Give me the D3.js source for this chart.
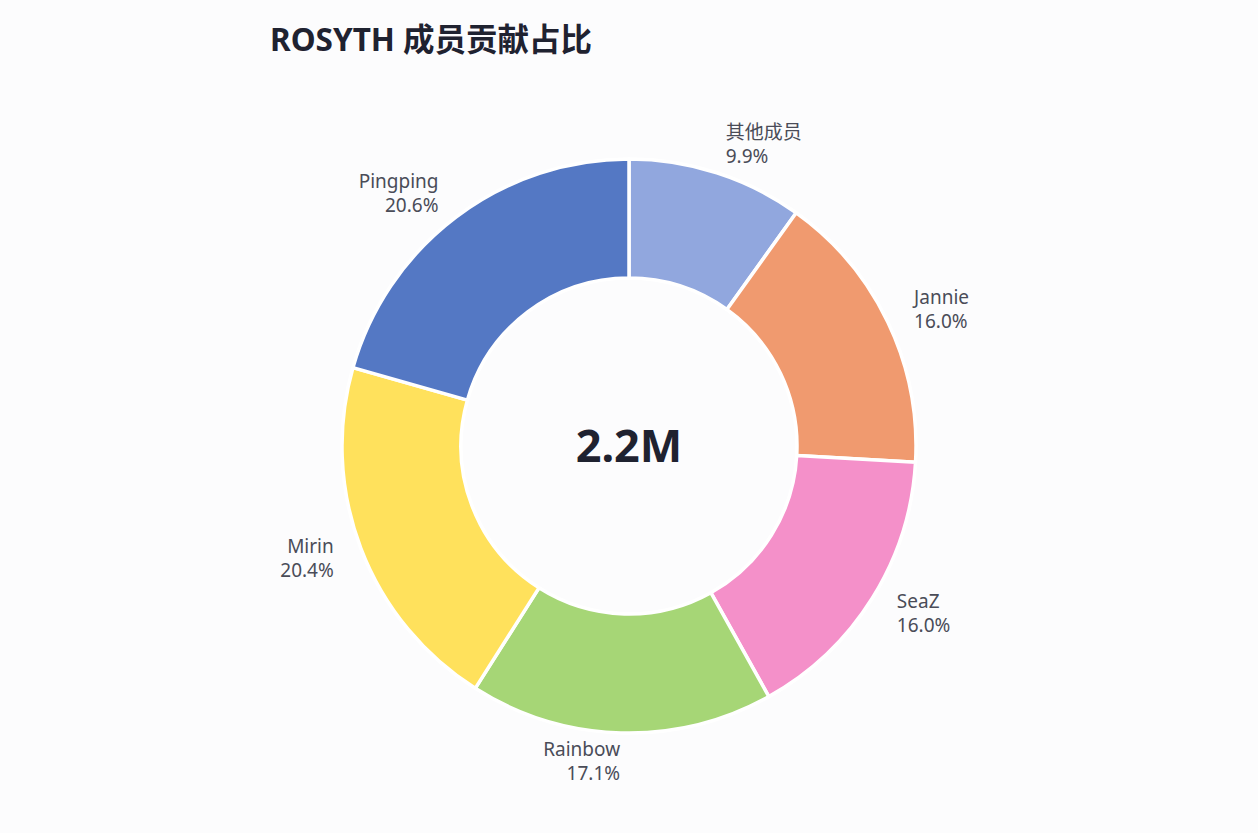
<!DOCTYPE html>
<html>
<head>
<meta charset="utf-8">
<script src="https://cdn.jsdelivr.net/npm/d3@7/dist/d3.min.js"></script>
<style>
  html, body { margin: 0; padding: 0; background: #fcfcfd; }
  svg { display: block; }
  text { font-family: "Segoe UI", "Noto Sans", "Noto Sans CJK SC", sans-serif; }
</style>
</head>
<body>
<script>
var members = ["其他成员", "Jannie", "SeaZ", "Rainbow", "Mirin", "Pingping"];
var shares = [9.9, 16.0, 16.0, 17.1, 20.4, 20.6];
var colors = ["#91a7de", "#f09a6f", "#f490c9", "#a6d676", "#ffe15c", "#5478c4"];
var title = "ROSYTH 成员贡献占比";
var total = "2.2M";

var width = 1258, height = 833;
var cx = 629, cy = 446;
var outer = 287, inner = 168, labelR = 316;

var svg = d3.select("body").append("svg")
  .attr("width", width)
  .attr("height", height);

svg.append("rect").attr("width", width).attr("height", height).attr("fill", "#fcfcfd");

svg.append("text")
  .attr("x", 270)
  .attr("y", 51)
  .attr("font-size", 31.5)
  .attr("font-weight", "bold")
  .attr("fill", "#1f2230")
  .text(title);

var data = members.map(function(m, i) { return {name: m, value: shares[i], color: colors[i]}; });

var pie = d3.pie().value(function(d) { return d.value; }).sort(null);
var arc = d3.arc().innerRadius(inner).outerRadius(outer);

var g = svg.append("g").attr("transform", "translate(" + cx + "," + cy + ")");

var arcs = pie(data);

g.selectAll("path")
  .data(arcs)
  .enter()
  .append("path")
  .attr("d", arc)
  .attr("fill", function(d) { return d.data.color; })
  .attr("stroke", "#ffffff")
  .attr("stroke-width", 3.5)
  .attr("stroke-linejoin", "round");

// two text lines per slice: name and percentage
function anchorOf(d) {
  var a = (d.startAngle + d.endAngle) / 2;
  return Math.sin(a) >= 0 ? "start" : "end";
}
function posOf(d) {
  var a = (d.startAngle + d.endAngle) / 2;
  return [labelR * Math.sin(a), -labelR * Math.cos(a)];
}

g.selectAll("text.name")
  .data(arcs)
  .enter()
  .append("text")
  .attr("class", "name")
  .attr("font-size", 19)
  .attr("fill", "#4a4c58")
  .attr("text-anchor", anchorOf)
  .attr("x", function(d) { return posOf(d)[0]; })
  .attr("y", function(d) { return posOf(d)[1] - 6; })
  .text(function(d) { return d.data.name; });

g.selectAll("text.pct")
  .data(arcs)
  .enter()
  .append("text")
  .attr("class", "pct")
  .attr("font-size", 19)
  .attr("fill", "#4a4c58")
  .attr("text-anchor", anchorOf)
  .attr("x", function(d) { return posOf(d)[0]; })
  .attr("y", function(d) { return posOf(d)[1] + 18; })
  .text(function(d) { return d.data.value.toFixed(1) + "%"; });

g.append("text")
  .attr("text-anchor", "middle")
  .attr("y", 16)
  .attr("font-size", 45)
  .attr("font-weight", "bold")
  .attr("fill", "#1f2230")
  .text(total);
</script>
</body>
</html>
